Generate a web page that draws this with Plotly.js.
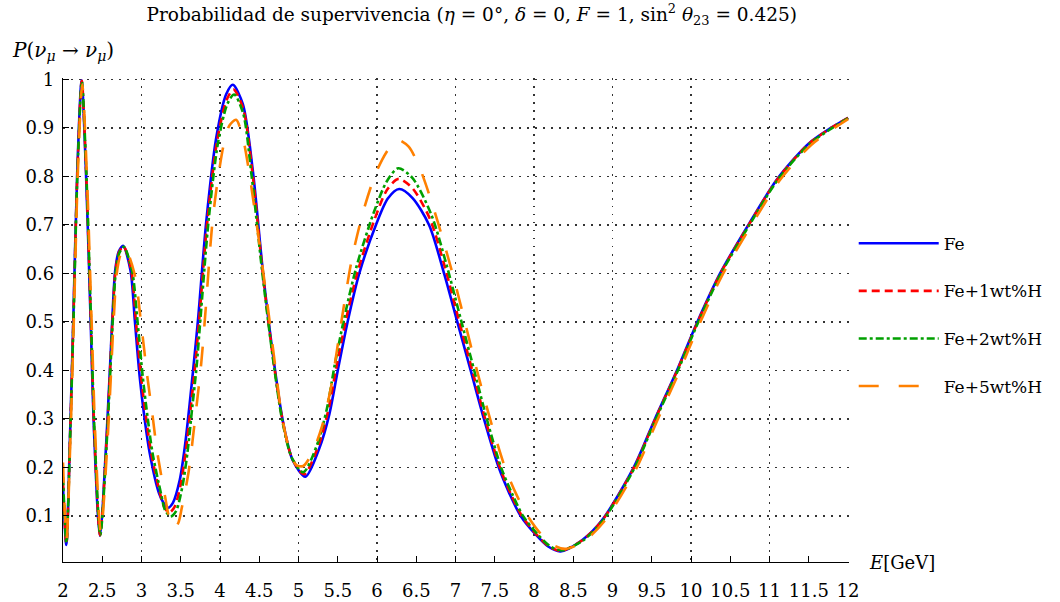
<!DOCTYPE html>
<html><head><meta charset="utf-8">
<script src="https://cdn.plot.ly/plotly-3.0.1.min.js"></script>
<style>html,body{margin:0;padding:0;background:#fff}#plot{width:1060px;height:602px}</style>
</head><body><div id="plot"></div>
<script>
// Fe
const feE = [2.00, 2.042, 2.089, 2.131, 2.182, 2.237, 2.292, 2.352, 2.398, 2.47, 2.555, 2.627, 2.665, 2.71, 2.766, 2.86, 2.915, 2.978, 3.042, 3.105, 3.22, 3.28, 3.338, 3.40, 3.487, 3.55, 3.614, 3.66, 3.719, 3.826, 3.953, 4.08, 4.164, 4.291, 4.418, 4.545, 4.672, 4.799, 4.926, 5.088, 5.266, 5.393, 5.50, 5.625, 5.774, 5.986, 6.14, 6.282, 6.45, 6.663, 6.854, 7.023, 7.193, 7.362, 7.55, 7.69, 7.83, 8.02, 8.18, 8.337, 8.611, 8.865, 9.27, 9.54, 9.82, 10.08, 10.37, 10.73, 11.1, 11.5, 11.78, 12.0];
const feP = [0.16, 0.040, 0.263, 0.503, 0.812, 0.998, 0.812, 0.503, 0.263, 0.059, 0.263, 0.503, 0.606, 0.645, 0.657, 0.606, 0.503, 0.385, 0.297, 0.229, 0.148, 0.127, 0.117, 0.127, 0.174, 0.240, 0.332, 0.405, 0.503, 0.709, 0.881, 0.970, 0.989, 0.949, 0.812, 0.606, 0.435, 0.297, 0.215, 0.181, 0.240, 0.310, 0.400, 0.500, 0.600, 0.700, 0.755, 0.774, 0.756, 0.700, 0.600, 0.500, 0.400, 0.300, 0.200, 0.145, 0.100, 0.062, 0.037, 0.027, 0.050, 0.091, 0.200, 0.300, 0.400, 0.500, 0.600, 0.700, 0.795, 0.868, 0.900, 0.921];
// Fe+1wt%H
const h1E = [2.00, 2.043, 2.090, 2.132, 2.184, 2.239, 2.294, 2.355, 2.401, 2.472, 2.558, 2.630, 2.669, 2.715, 2.771, 2.87, 2.93, 2.995, 3.06, 3.123, 3.235, 3.29, 3.352, 3.42, 3.50, 3.565, 3.63, 3.68, 3.735, 3.84, 3.965, 4.09, 4.172, 4.295, 4.41, 4.545, 4.672, 4.799, 4.92, 5.07, 5.25, 5.375, 5.48, 5.605, 5.755, 5.97, 6.13, 6.275, 6.45, 6.675, 6.87, 7.04, 7.21, 7.378, 7.565, 7.705, 7.845, 8.03, 8.19, 8.345, 8.615, 8.87, 9.275, 9.545, 9.825, 10.085, 10.375, 10.735, 11.105, 11.505, 11.785, 12.0];
const h1P = [0.17, 0.042, 0.263, 0.503, 0.812, 0.997, 0.812, 0.503, 0.263, 0.060, 0.263, 0.503, 0.605, 0.644, 0.656, 0.606, 0.50, 0.386, 0.30, 0.23, 0.147, 0.118, 0.107, 0.118, 0.166, 0.235, 0.328, 0.405, 0.505, 0.71, 0.875, 0.960, 0.979, 0.94, 0.812, 0.60, 0.43, 0.295, 0.218, 0.186, 0.243, 0.315, 0.405, 0.505, 0.605, 0.712, 0.773, 0.795, 0.776, 0.712, 0.610, 0.505, 0.402, 0.300, 0.200, 0.145, 0.100, 0.062, 0.037, 0.028, 0.050, 0.091, 0.200, 0.300, 0.400, 0.500, 0.600, 0.700, 0.795, 0.868, 0.900, 0.921];
// Fe+2wt%H
const h2E = [2.00, 2.043, 2.091, 2.134, 2.185, 2.240, 2.296, 2.357, 2.404, 2.475, 2.561, 2.634, 2.673, 2.72, 2.776, 2.88, 2.95, 3.015, 3.08, 3.14, 3.25, 3.30, 3.37, 3.44, 3.52, 3.585, 3.645, 3.70, 3.75, 3.855, 3.975, 4.095, 4.18, 4.295, 4.40, 4.54, 4.67, 4.795, 4.915, 5.06, 5.235, 5.36, 5.46, 5.585, 5.735, 5.955, 6.125, 6.27, 6.45, 6.69, 6.885, 7.06, 7.23, 7.395, 7.58, 7.72, 7.86, 8.04, 8.2, 8.35, 8.62, 8.875, 9.28, 9.55, 9.83, 10.09, 10.38, 10.74, 11.11, 11.51, 11.79, 12.0];
const h2P = [0.18, 0.045, 0.263, 0.503, 0.812, 0.995, 0.812, 0.503, 0.263, 0.061, 0.263, 0.503, 0.604, 0.643, 0.655, 0.605, 0.50, 0.388, 0.30, 0.23, 0.145, 0.112, 0.099, 0.110, 0.16, 0.23, 0.322, 0.405, 0.505, 0.71, 0.87, 0.950, 0.969, 0.93, 0.805, 0.60, 0.43, 0.295, 0.22, 0.19, 0.246, 0.320, 0.410, 0.510, 0.612, 0.724, 0.790, 0.817, 0.797, 0.722, 0.618, 0.510, 0.405, 0.302, 0.200, 0.146, 0.100, 0.063, 0.038, 0.029, 0.049, 0.090, 0.199, 0.299, 0.399, 0.499, 0.599, 0.699, 0.794, 0.867, 0.899, 0.920];
// Fe+5wt%H
const h5E = [2.00, 2.045, 2.095, 2.138, 2.19, 2.245, 2.302, 2.364, 2.412, 2.482, 2.57, 2.645, 2.685, 2.735, 2.79, 2.91, 3.0, 3.072, 3.135, 3.20, 3.30, 3.36, 3.42, 3.47, 3.516, 3.60, 3.69, 3.762, 3.813, 3.90, 3.96, 4.046, 4.12, 4.205, 4.29, 4.36, 4.46, 4.588, 4.715, 4.78, 4.87, 4.97, 5.06, 5.18, 5.30, 5.41, 5.545, 5.68, 5.82, 5.98, 6.12, 6.25, 6.40, 6.55, 6.70, 6.84, 6.97, 7.095, 7.265, 7.44, 7.63, 7.77, 7.91, 8.08, 8.24, 8.40, 8.63, 8.89, 9.30, 9.57, 9.85, 10.11, 10.40, 10.76, 11.13, 11.53, 11.81, 12.0];
const h5P = [0.21, 0.050, 0.263, 0.503, 0.812, 0.99, 0.812, 0.503, 0.263, 0.066, 0.263, 0.503, 0.600, 0.640, 0.652, 0.600, 0.49, 0.39, 0.314, 0.232, 0.14, 0.092, 0.075, 0.086, 0.119, 0.191, 0.311, 0.417, 0.517, 0.70, 0.78, 0.865, 0.905, 0.917, 0.88, 0.82, 0.71, 0.557, 0.394, 0.314, 0.245, 0.205, 0.203, 0.232, 0.285, 0.362, 0.50, 0.63, 0.725, 0.805, 0.850, 0.876, 0.862, 0.815, 0.745, 0.670, 0.595, 0.516, 0.405, 0.300, 0.200, 0.146, 0.102, 0.064, 0.040, 0.032, 0.047, 0.088, 0.197, 0.297, 0.397, 0.497, 0.597, 0.697, 0.792, 0.865, 0.898, 0.918];

const seriesNames = ['Fe', 'Fe+1wt%H', 'Fe+2wt%H', 'Fe+5wt%H'];
const xTickVals = [2, 2.5, 3, 3.5, 4, 4.5, 5, 5.5, 6, 6.5, 7, 7.5, 8, 8.5, 9, 9.5, 10, 10.5, 11, 11.5, 12];
const xTickText = ['2', '2.5', '3', '3.5', '4', '4.5', '5', '5.5', '6', '6.5', '7', '7.5', '8', '8.5', '9', '9.5', '10', '10.5', '11', '11.5', '12'];
const yTickVals = [0.1, 0.2, 0.3, 0.4, 0.5, 0.6, 0.7, 0.8, 0.9, 1];
const yTickText = ['0.1', '0.2', '0.3', '0.4', '0.5', '0.6', '0.7', '0.8', '0.9', '1'];

const FONT = 'DejaVu Serif';
const styles = [
  {color: '#0000ff', dash: 'solid', width: 2.6},
  {color: '#ff0000', dash: '8px,5px', width: 2.6},
  {color: '#00a000', dash: '8px,3px,3px,3px', width: 2.6},
  {color: '#ff8000', dash: '20px,20px', width: 2.6}
];
const xs = [feE, h1E, h2E, h5E];
const ys = [feP, h1P, h2P, h5P];
const traces = seriesNames.map((n, i) => ({
  type: 'scatter', mode: 'lines', name: n, x: xs[i], y: ys[i],
  xaxis: i === 3 ? 'x2' : 'x', yaxis: 'y',
  legendgroup: 'g' + i,
  line: {color: styles[i].color, dash: styles[i].dash, width: styles[i].width, shape: 'spline', smoothing: 0.8},
  hoverinfo: 'skip'
}));

const X_RANGE = [2, 12.012];
const gridDash = '1.5px,6.5px';
const layout = {
  width: 1060, height: 602,
  margin: {l: 63, r: 209, t: 78, b: 40, pad: 0},
  paper_bgcolor: '#fff', plot_bgcolor: '#fff',
  font: {family: FONT, size: 18, color: '#000'},
  showlegend: true,
  title: {
    text: 'Probabilidad de supervivencia (<i>η</i> = 0°, <i>δ</i> = 0, <i>F</i> = 1, sin<sup>2</sup> <i>θ</i><sub>23</sub> = 0.425)',
    font: {family: FONT, size: 18.5, color: '#000'},
    x: 0.52, xref: 'paper', xanchor: 'center',
    y: 0.976, yref: 'container', yanchor: 'middle'
  },
  xaxis: {
    range: X_RANGE, tickmode: 'array', tickvals: xTickVals, ticktext: xTickText,
    ticks: 'inside', ticklen: 6, tickwidth: 1, tickcolor: '#000',
    showline: true, linecolor: '#000', linewidth: 1.2, mirror: false,
    showgrid: false, zeroline: false, ticklabelstandoff: 12,
    tickfont: {family: FONT, size: 18, color: '#000'}
  },
  xaxis2: {
    overlaying: 'x', anchor: 'y', side: 'bottom', range: X_RANGE,
    tickmode: 'linear', tick0: 2, dtick: 1, ticks: '', showticklabels: false,
    showline: false, zeroline: false,
    showgrid: true, gridcolor: '#333', gridwidth: 1.2, griddash: gridDash
  },
  yaxis: {
    range: [0.005, 1.003], tickmode: 'array', tickvals: yTickVals, ticktext: yTickText,
    ticks: 'inside', ticklen: 6, tickwidth: 1, tickcolor: '#000',
    showline: true, linecolor: '#000', linewidth: 1.2, mirror: false,
    showgrid: true, gridcolor: '#333', gridwidth: 1.2, griddash: gridDash,
    zeroline: false, ticklabelstandoff: 4,
    tickfont: {family: FONT, size: 18, color: '#000'}
  },
  legend: {
    x: 1.006, xanchor: 'left', y: 0.511, yanchor: 'middle',
    traceorder: 'grouped', tracegroupgap: 22.5, itemwidth: 80,
    font: {family: FONT, size: 17, color: '#000'},
    bgcolor: 'rgba(0,0,0,0)', borderwidth: 0
  },
  annotations: [
    {text: '<i>P</i>(<i>ν</i><sub><i>μ</i></sub> → <i>ν</i><sub><i>μ</i></sub>)', xref: 'paper', yref: 'paper',
     x: -0.067, xanchor: 'left', y: 1.056, yanchor: 'middle', showarrow: false,
     font: {family: FONT, size: 20, color: '#000'}},
    {text: '<i>E</i>[GeV]', xref: 'paper', yref: 'paper',
     x: 1.023, xanchor: 'left', y: 0.0, yanchor: 'middle', showarrow: false,
     font: {family: FONT, size: 18, color: '#000'}}
  ]
};
Plotly.newPlot('plot', traces, layout, {staticPlot: true, displayModeBar: false});
</script></body></html>
